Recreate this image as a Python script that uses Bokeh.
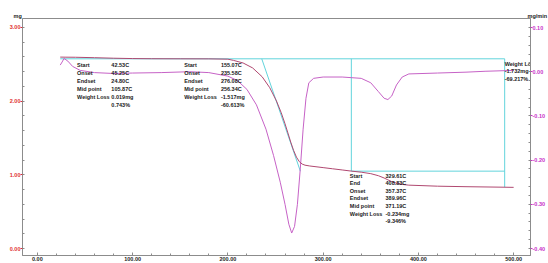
from bokeh.plotting import figure
from bokeh.models import Range1d, LinearAxis, FixedTicker, NumeralTickFormatter, Title
from bokeh.core.properties import value
from bokeh.embed import file_html
from bokeh.resources import INLINE

# ---- TGA curve (mg) ----
temp_tga = [24, 30, 40, 60, 80, 100, 120, 150, 180, 200, 206, 216, 226, 236, 244, 251, 256, 260, 263, 266,
            269, 272, 275, 278, 281, 286, 300, 310, 320, 330, 340, 350, 358, 364, 368, 372, 377, 383, 390, 420,
            450, 490, 500]
mass_tga = [2.598, 2.597, 2.596, 2.590, 2.583, 2.578, 2.576, 2.575, 2.574, 2.570, 2.553, 2.518, 2.451, 2.331,
            2.182, 2.003, 1.843, 1.693, 1.569, 1.444, 1.331, 1.240, 1.179, 1.146, 1.131, 1.120, 1.098, 1.082,
            1.066, 1.050, 1.036, 1.016, 0.988, 0.957, 0.932, 0.908, 0.887, 0.870, 0.860, 0.846, 0.839, 0.832,
            0.830]

# ---- DTG curve (mg/min) ----
temp_dtg = [24, 26, 28, 32, 37, 45, 60, 80, 100, 130, 160, 180, 200, 210, 220, 230, 240, 248, 255, 260,
            264, 267, 270, 273, 276, 279, 282, 285, 290, 300, 320, 340, 350, 358, 364, 368, 372, 377, 383, 390,
            420, 450, 470, 500]
rate_dtg = [0.015, 0.022, 0.030, 0.024, 0.012, 0.003, -0.002, -0.004, -0.003, -0.002, 0.000, -0.002, -0.010,
            -0.020, -0.040, -0.075, -0.130, -0.190, -0.250, -0.300, -0.345, -0.365, -0.350, -0.300, -0.220,
            -0.130, -0.060, -0.025, -0.015, -0.012, -0.012, -0.015, -0.025, -0.045, -0.060, -0.063, -0.055,
            -0.030, -0.012, -0.005, -0.003, -0.001, 0.001, 0.003]

# ---- ticks ----
x_ticks = [0, 100, 200, 300, 400, 500]
mg_ticks = [0, 1, 2, 3]
rate_ticks = [0.10, 0.00, -0.10, -0.20, -0.30, -0.40]
unit_left = "mg"
unit_right = "mg/min"

# ---- analysis construction values ----
baseline_mass = 2.575
step3_mass = 1.05
end_mass = 0.83
t_first = 24.0
t_end = 490.6
onset2, endset2 = 235.58, 276.08
start3 = 329.61

# ---- annotation text blocks ----
block1_labels = ["Start", "Onset", "Endset", "Mid point", "Weight Loss", ""]
block1_values = ["42.53C", "45.25C", "24.80C", "105.87C", "0.019mg", "0.743%"]
block2_labels = ["Start", "Onset", "Endset", "Mid point", "Weight Loss", ""]
block2_values = ["155.07C", "235.58C", "276.08C", "256.34C", "-1.517mg", "-60.613%"]
block3_labels = ["Start", "End", "Onset", "Endset", "Mid point", "Weight Loss", ""]
block3_values = ["329.61C", "408.83C", "357.37C", "389.96C", "371.19C", "-0.234mg", "-9.346%"]
block4_lines = ["Weight Loss", "-1.732mg", "-69.217%"]

XR = (-15.6, 517.7)
YR = (-0.095, 3.122)
YR2 = (-0.4158, 0.1204)

FONT = "Liberation Sans"
AX = "#8c8c8c"

p = figure(width=548, height=263, x_range=Range1d(*XR), y_range=Range1d(*YR),
           output_backend="svg", toolbar_location=None,
           min_border=0, min_border_left=22, min_border_right=14, min_border_top=18, min_border_bottom=8)
p.extra_y_ranges = {"dtg": Range1d(*YR2)}
p.grid.visible = False
p.background_fill_color = "white"
p.border_fill_color = "white"
p.outline_line_color = AX
p.outline_line_width = 1

# units row above the frame
p.add_layout(Title(text=unit_left + "\u00a0" * 331 + unit_right, align="left", offset=-9,
                   text_font=FONT, text_font_style="bold", text_font_size="5.5px",
                   text_color="#222222", standoff=0), "above")


def style_axis(ax, label_color, tick_color):
    ax.axis_label = None
    ax.axis_label_standoff = 0
    ax.axis_line_color = AX
    ax.major_tick_line_color = tick_color
    ax.minor_tick_line_color = AX
    ax.major_label_text_font = FONT
    ax.major_label_text_font_style = "bold"
    ax.major_label_text_font_size = "5.5px"
    ax.major_label_text_color = label_color


xa = p.xaxis[0]
xa.ticker = FixedTicker(ticks=x_ticks, minor_ticks=[t * 20 for t in range(26)])
xa.formatter = NumeralTickFormatter(format="0.00")
style_axis(xa, "#222222", AX)
xa.major_tick_in = 3
xa.major_tick_out = 0
xa.minor_tick_in = 2
xa.minor_tick_out = 0
xa.major_label_standoff = 1

ya = p.yaxis[0]
ya.ticker = FixedTicker(ticks=mg_ticks, minor_ticks=[t * 0.2 for t in range(16)])
ya.formatter = NumeralTickFormatter(format="0.00")
style_axis(ya, "#e03030", "#e03030")
ya.major_tick_in = 0
ya.major_tick_out = 2
ya.minor_tick_in = 2
ya.minor_tick_out = 0
ya.major_label_standoff = 0

ra = LinearAxis(y_range_name="dtg",
                ticker=FixedTicker(ticks=rate_ticks, minor_ticks=[-0.4 + t * 0.02 for t in range(26)]),
                formatter=NumeralTickFormatter(format="0.00"))
style_axis(ra, "#c830c8", "#c830c8")
ra.major_tick_in = 0
ra.major_tick_out = 2
ra.minor_tick_in = 2
ra.minor_tick_out = 0
ra.major_label_standoff = 0
p.add_layout(ra, "right")

# construction lines
CYAN = "#62d4dc"
p.multi_line(
    xs=[[t_first, t_end], [start3, start3], [start3, t_end], [t_end, t_end], [onset2, endset2]],
    ys=[[baseline_mass, baseline_mass], [baseline_mass, step3_mass], [step3_mass, step3_mass],
        [baseline_mass, end_mass], [baseline_mass, step3_mass]],
    line_color=CYAN, line_width=1)

# curves
p.line(temp_dtg, rate_dtg, y_range_name="dtg", line_color="#c662c6", line_width=1)
p.line(temp_tga, mass_tga, line_color="#b04870", line_width=1)

# annotations
ROW = 0.1086
TXT = dict(text_font=value(FONT), text_font_style="bold", text_font_size="5.5px",
           text_baseline="middle", text_color="#1a1a1a")


def block(t_anchor, m_anchor, labels, values, row=ROW, col=36.0):
    n = len(labels)
    ys = [m_anchor - i * row for i in range(n)]
    p.text(x=[t_anchor] * n, y=ys, text=labels, **TXT)
    p.text(x=[t_anchor + col] * n, y=ys, text=values, **TXT)


block(41.7, 2.49, block1_labels, block1_values)
block(154.2, 2.49, block2_labels, block2_values, col=38.5)
block(328.0, 0.99, block3_labels, block3_values, row=0.103, col=37.5)
p.text(x=[490.6] * 3, y=[2.51 - i * 0.103 for i in range(3)], text=block4_lines, **TXT)

open("out.html", "w").write(file_html(p, INLINE))
